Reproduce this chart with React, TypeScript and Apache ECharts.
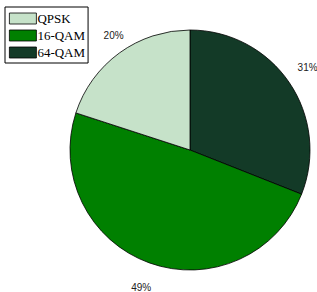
import React, { useEffect, useRef } from "react";
import * as echarts from "echarts";

const categories = ["QPSK", "16-QAM", "64-QAM"];
const values = [20, 49, 31];
const colors = ["#c6e2c9", "#008000", "#133a27"];
// drawing order (clockwise from top)
const drawOrder = [2, 1, 0];
// small label nudges per category (styling only)
const labelNudge: Record<string, number[]> = {
  QPSK: [10, 4],
  "64-QAM": [-4, 0],
  "16-QAM": [1, -1],
};

export default function App() {
  const ref = useRef<HTMLDivElement>(null);
  useEffect(() => {
    document.body.style.margin = "0";
    const chart = echarts.init(ref.current!, null, { renderer: "svg" });
    const baseData = drawOrder.map((i) => ({
      name: categories[i],
      value: values[i],
      itemStyle: { color: colors[i] },
    }));
    const labelData = drawOrder.map((i) => ({
      name: categories[i],
      value: values[i],
      label: { offset: labelNudge[categories[i]] },
    }));
    chart.setOption({
      animation: false,
      backgroundColor: "#fff",
      legend: {
        data: categories,
        orient: "vertical",
        left: 5,
        top: 7,
        padding: [5, 3, 4, 4],
        itemWidth: 27,
        itemHeight: 11,
        itemGap: 4,
        borderColor: "#000",
        borderWidth: 1,
        borderRadius: 0,
        backgroundColor: "#fff",
        selectedMode: false,
        icon: "rect",
        itemStyle: { borderColor: "#000", borderWidth: 0.8 },
        textStyle: {
          fontFamily: "Liberation Serif",
          fontSize: 13,
          color: "#000",
          padding: [0, 0, 0, -4],
        },
      },
      series: [
        {
          type: "pie",
          center: [190, 150],
          radius: 120,
          startAngle: 90,
          clockwise: true,
          silent: true,
          label: { show: false },
          labelLine: { show: false },
          itemStyle: { borderColor: "#000", borderWidth: 0.8 },
          data: baseData,
        },
        {
          type: "pie",
          center: [190, 150],
          radius: [140, 148],
          startAngle: 90,
          clockwise: true,
          silent: true,
          itemStyle: { color: "rgba(0,0,0,0)" },
          label: {
            show: true,
            position: "inside",
            formatter: (p: any) => `${Math.round(p.percent)}%`,
            fontFamily: "Liberation Sans",
            fontSize: 10,
            color: "#222",
          },
          labelLine: { show: false },
          data: labelData,
        },
      ],
    });
    return () => chart.dispose();
  }, []);
  return (
    <div
      ref={ref}
      style={{ position: "fixed", left: 0, top: 0, width: 317, height: 292 }}
    />
  );
}
